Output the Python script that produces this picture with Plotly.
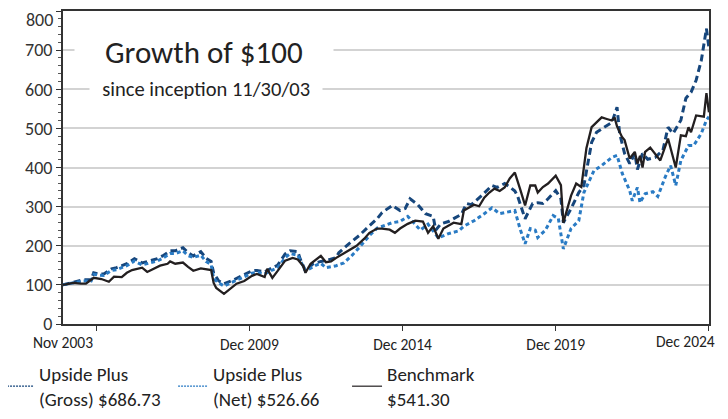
import pandas as pd
import plotly.graph_objects as go

# Month offsets since inception (Nov 2003 = 0) and values (growth of $100)
bench_m = [0, 4, 7, 9, 12, 15, 18, 20, 23, 25, 27, 29, 31, 33, 35, 38, 41, 42, 44, 47, 49, 51, 54, 56, 58, 59, 60, 63, 65, 68,
           71, 74, 76, 79, 80, 82, 84, 87, 90, 92, 94, 95, 97, 101, 103, 105, 107, 112, 115, 118, 120, 123, 125, 128, 130, 132,
           135, 138, 141, 143, 145, 147, 149, 153, 156, 157, 159, 161, 163, 165, 167, 169, 171, 173, 175, 177, 179, 181, 183,
           185, 186, 188, 190, 193, 195, 196, 199, 201, 203, 205, 207, 211, 213, 215, 216, 217, 219, 220, 222, 224, 225, 226,
           227, 228, 230, 232, 234, 237, 240, 242, 244, 245, 246, 248, 251, 252, 253]
bench_v = [100, 105, 103, 103, 118, 115, 108, 121, 120, 131, 138, 141, 144, 133, 140, 149, 154, 160, 154, 157, 146, 136, 142, 140, 138, 105, 92, 77, 88, 103,
           110, 123, 128, 120, 141, 118, 135, 162, 169, 165, 149, 131, 154, 174, 158, 160, 169, 187, 200, 218, 233, 244, 244, 241, 233, 244,
           256, 264, 262, 233, 250, 218, 244, 259, 255, 290, 297, 305, 301, 323, 336, 346, 340, 349, 372, 387, 346, 303, 354,
           354, 336, 350, 359, 379, 355, 259, 328, 359, 350, 449, 503, 528, 524, 520, 528, 505, 477, 470, 423, 440, 410, 430,
           400, 440, 451, 435, 418, 474, 400, 482, 480, 503, 490, 533, 530, 590, 541]

gross_m = [0, 5, 8, 11, 12, 14, 16, 19, 21, 25, 28, 31, 34, 37, 39, 42, 44, 47, 49, 51, 54, 56, 58, 59, 61, 63, 66, 70, 74, 76,
           79, 82, 84, 87, 89, 92, 93, 95, 98, 101, 103, 107, 108, 112, 116, 120, 123, 125, 128, 129, 132, 134, 136, 139, 142,
           145, 146, 148, 151, 154, 156, 158, 160, 164, 168, 170, 173, 175, 177, 178, 181, 184, 186, 188, 190, 193, 195, 196,
           199, 202, 204, 207, 209, 212, 215, 217, 218, 220, 222, 224, 225, 227, 229, 232, 235, 237, 239, 242, 244, 246, 248,
           250, 252, 253]
gross_v = [100, 108, 113, 113, 131, 128, 128, 141, 144, 154, 167, 156, 162, 167, 174, 187, 187, 195, 182, 174, 185, 168, 160, 130, 110, 103, 110, 123, 136, 137,
           133, 144, 150, 179, 187, 185, 165, 136, 154, 160, 162, 170, 182, 205, 226, 251, 269, 285, 297, 303, 290, 295, 320, 305, 282,
           275, 240, 256, 262, 272, 280, 308, 305, 328, 354, 349, 359, 350, 340, 328, 269, 308, 310, 308, 320, 341, 320, 259,
           295, 336, 354, 464, 490, 503, 515, 554, 487, 436, 410, 436, 395, 436, 421, 426, 444, 503, 487, 521, 577, 592, 623,
           674, 755, 705]

net_m = [0, 5, 8, 11, 12, 14, 16, 19, 21, 25, 28, 31, 34, 37, 39, 42, 44, 47, 49, 51, 54, 56, 58, 59, 61, 63, 66, 70, 74, 76,
         79, 82, 84, 87, 89, 92, 95, 99, 101, 103, 107, 110, 113, 116, 120, 123, 126, 129, 132, 135, 137, 140, 143, 147, 151,
         155, 157, 161, 165, 168, 171, 174, 177, 179, 181, 183, 185, 186, 189, 192, 194, 196, 199, 202, 204, 208, 211, 215,
         217, 219, 222, 223, 225, 226, 228, 231, 233, 236, 238, 240, 242, 245, 247, 250, 252, 253]
net_v = [100, 106, 110, 110, 127, 125, 124, 137, 139, 149, 161, 151, 157, 161, 168, 180, 180, 187, 175, 170, 176, 160, 152, 115, 105, 97, 106, 118, 130, 132,
         128, 138, 143, 170, 180, 176, 135, 150, 155, 144, 149, 156, 174, 195, 226, 245, 252, 259, 262, 275, 262, 240, 255, 220, 231,
         238, 250, 264, 282, 297, 282, 285, 290, 244, 205, 244, 240, 221, 240, 277, 270, 192, 244, 264, 336, 392, 405, 426,
         431, 385, 341, 315, 349, 310, 333, 338, 326, 377, 405, 354, 418, 456, 456, 487, 521, 530]

tick_m = [13, 73, 133, 193, 253]
tick_text = ["", "Dec 2009", "Dec 2014", "Dec 2019", ""]
edge_labels = ["Nov 2003", "Dec 2024"]
y_ticks = [0, 100, 200, 300, 400, 500, 600, 700, 800]
y_text = ["0", "100", "200", "300", "400", "500", "600", "700", ""]

names = ["Upside Plus<br>(Gross) $686.73", "Upside Plus<br>(Net) $526.66", "Benchmark<br>$541.30"]
colors = ["#16467c", "#2a7bc4", "#231f20"]

start = pd.Timestamp(2003, 11, 1)
def to_dates(ms):
    return [start + pd.DateOffset(months=int(m)) for m in ms]

FONT = "Carlito, 'Liberation Sans Narrow', 'Open Sans', sans-serif"
end = start + pd.DateOffset(months=253)
NB = "&nbsp;"

fig = go.Figure()
fig.add_trace(go.Scatter(x=to_dates(gross_m), y=gross_v, mode="lines", name=names[0], showlegend=False,
                         line=dict(color=colors[0], width=3, dash="7px,4px")))
fig.add_trace(go.Scatter(x=to_dates(net_m), y=net_v, mode="lines", name=names[1], showlegend=False,
                         line=dict(color=colors[1], width=3, dash="4px,3px")))
fig.add_trace(go.Scatter(x=to_dates(bench_m), y=bench_v, mode="lines", name=names[2], showlegend=False,
                         line=dict(color=colors[2], width=2.3)))
# legend-only entries with the thin keys used in the original legend
for nm, c, d in zip(names, colors, ["2px,1px", "2px,1px", "solid"]):
    fig.add_trace(go.Scatter(x=[None], y=[None], mode="lines", name=nm, showlegend=True,
                             line=dict(color=c, width=1.2, dash=d)))

fig.update_layout(
    width=720, height=411,
    margin=dict(l=55, r=19, t=3, b=95, autoexpand=False),
    paper_bgcolor="white", plot_bgcolor="white",
    font=dict(family=FONT, color="#333333", size=15),
    showlegend=True,
    legend=dict(orientation="h", x=-0.099, xanchor="left", y=-0.099, yanchor="top",
                entrywidth=129, entrywidthmode="pixels", font=dict(size=19, color="#222222"),
                tracegroupgap=0, bgcolor="rgba(0,0,0,0)"),
    xaxis=dict(type="date", range=[start, end + pd.Timedelta(hours=12)],
               tickvals=to_dates(tick_m), ticktext=tick_text, tickfont=dict(size=15.5, color="#222222"),
               ticks="outside", ticklen=5, tickcolor="#333333", showgrid=False,
               showline=True, linecolor="#333333", linewidth=2, mirror=True, zeroline=False),
    yaxis=dict(range=[0, 800], tickvals=y_ticks, ticktext=y_text, tickfont=dict(size=18, color="#333333"),
               ticks="outside", ticklen=5, tickcolor="#333333",
               minor=dict(dtick=20, ticks="outside", ticklen=3, tickcolor="#555555", showgrid=False),
               showgrid=True, gridcolor="#d3d3d3", gridwidth=1.5,
               showline=True, linecolor="#333333", linewidth=2, mirror=True, zeroline=False),
    annotations=[
        dict(text=NB * 4 + "Growth of $100" + NB * 4, xref="paper", yref="paper", x=0.219, y=0.869,
             xanchor="center", yanchor="middle",
             showarrow=False, font=dict(size=31, color="#222222"), bgcolor="white", borderpad=2),
        dict(text=NB * 2 + "since inception 11/30/03" + NB * 2, xref="paper", yref="paper", x=0.222, y=0.752,
             xanchor="center", yanchor="middle",
             showarrow=False, font=dict(size=20.5, color="#222222"), bgcolor="white", borderpad=3),
        dict(text=edge_labels[0], xref="x", yref="paper", x=start, y=-0.058, xanchor="center", yanchor="middle",
             showarrow=False, font=dict(size=15.5, color="#222222")),
        dict(text=edge_labels[1], xref="paper", yref="paper", x=1.013, y=-0.056, xanchor="right", yanchor="middle",
             showarrow=False, font=dict(size=15.5, color="#222222")),
        dict(text="800", xref="paper", yref="paper", x=-0.0124, y=0.971, xanchor="right", yanchor="middle",
             showarrow=False, font=dict(size=18, color="#333333")),
    ],
)

fig.write_html("out.html")
